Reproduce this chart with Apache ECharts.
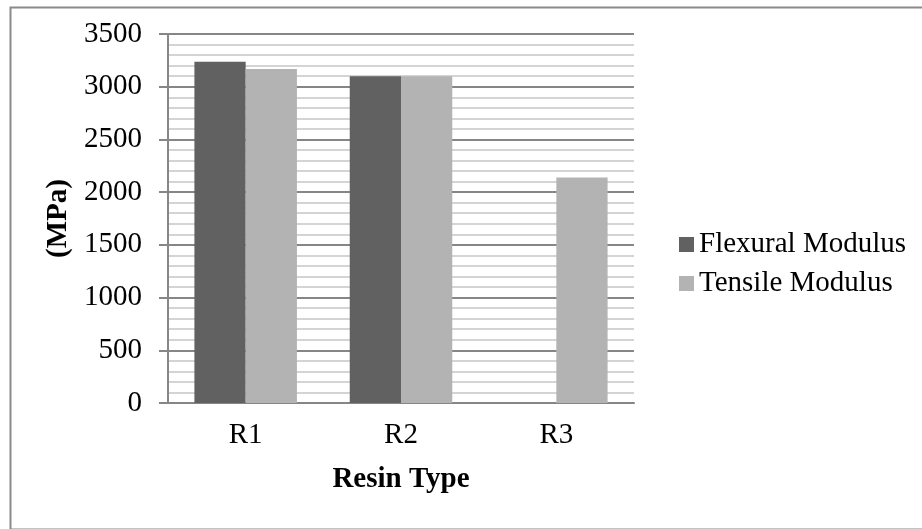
<!DOCTYPE html>
<html><head><meta charset="utf-8">
<script src="https://cdn.jsdelivr.net/npm/echarts@6/dist/echarts.min.js"></script>
<style>html,body{margin:0;padding:0;background:#fff}#c{width:922px;height:529px}</style>
</head><body><div id="c"></div>
<script>
const categories = ['R1', 'R2', 'R3'];
const flexural = [3237, 3100, 0];
const tensile = [3168, 3100, 2140];
const seriesNames = ['Flexural Modulus', 'Tensile Modulus'];
const yTicks = [0, 500, 1000, 1500, 2000, 2500, 3000, 3500];

const font = 'Liberation Serif';
const fs = 29;
const chart = echarts.init(document.getElementById('c'));
chart.setOption({
  animation: false,
  backgroundColor: '#fff',
  graphic: [{
    type: 'rect', left: 8, top: 5,
    shape: { width: 920, height: 522 },
    style: { fill: 'none', stroke: '#8a8a8a', lineWidth: 2 }
  }],
  grid: { left: 168, top: 34, right: 288, bottom: 126, containLabel: false },
  legend: {
    orient: 'vertical', left: 674, top: 225,
    itemWidth: 15, itemHeight: 15, itemGap: 10,
    icon: 'rect',
    textStyle: { fontFamily: font, fontSize: fs, color: '#000', padding: [0, 0, 0, 0] },
    data: seriesNames
  },
  xAxis: {
    type: 'category', data: categories,
    axisLine: { lineStyle: { color: '#868686', width: 2 } },
    axisTick: { show: false },
    axisLabel: { fontFamily: font, fontSize: fs, color: '#000', margin: 18 },
    name: 'Resin Type', nameLocation: 'middle', nameGap: 62,
    nameTextStyle: { fontFamily: font, fontSize: fs, fontWeight: 'bold', color: '#000' }
  },
  yAxis: {
    type: 'value', min: yTicks[0], max: yTicks[yTicks.length - 1], interval: 500,
    axisLine: { show: true, lineStyle: { color: '#868686', width: 2 } },
    axisTick: { show: true, inside: false, length: 9, lineStyle: { color: '#868686', width: 2 } },
    axisLabel: { fontFamily: font, fontSize: fs, color: '#000', margin: 26,
      formatter: v => String(v) },
    splitLine: { show: true, lineStyle: { color: '#868686', width: 2 } },
    minorTick: { show: false, splitNumber: 5 },
    minorSplitLine: { show: true, lineStyle: { color: '#d4d4d4', width: 2 } },
    name: '(MPa)', nameLocation: 'middle', nameGap: 91,
    nameTextStyle: { fontFamily: font, fontSize: fs, fontWeight: 'bold', color: '#000' }
  },
  series: [
    { name: seriesNames[0], type: 'bar', data: flexural, barGap: '0%', barCategoryGap: '34%',
      itemStyle: { color: '#616161' } },
    { name: seriesNames[1], type: 'bar', data: tensile, barGap: '0%', barCategoryGap: '34%',
      itemStyle: { color: '#b3b3b3' } }
  ]
});
</script></body></html>
